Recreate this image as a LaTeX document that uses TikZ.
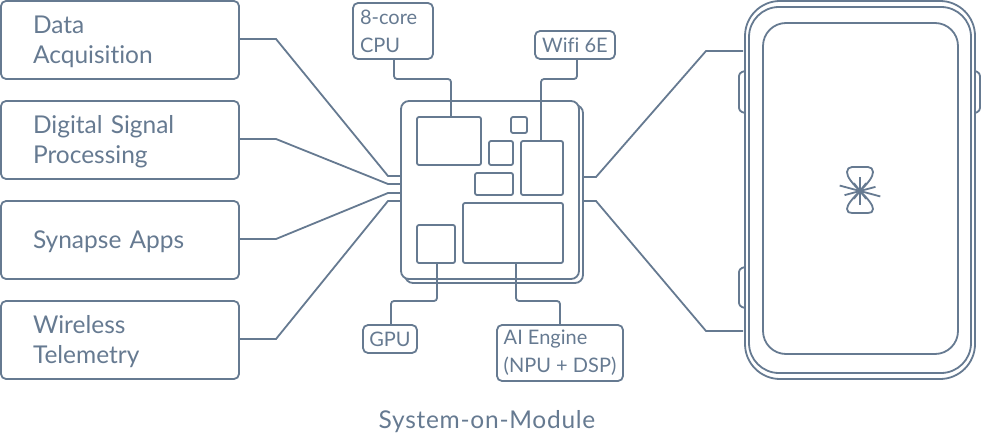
\documentclass[tikz,border=0pt]{standalone}
\usepackage{fontspec}
\setmainfont[Ligatures=NoCommon]{Lato}
\definecolor{slate}{HTML}{667A91}
\tikzset{
  wire/.style={slate,line width=1.8pt,rounded corners=3pt},
  outline/.style={slate,line width=1.8pt},
  taskbox/.style={draw=slate,line width=1.8pt,rounded corners=5pt,outer sep=0pt,inner sep=0pt,
    minimum width=238pt,minimum height=78pt,text=slate,text width=174pt,align=left,
    font=\fontsize{24.5}{30}\selectfont,execute at begin node={\rule{0pt}{22pt}}},
  partbox/.style={draw=slate,line width=1.8pt,rounded corners=5pt,outer sep=0pt,inner sep=0pt,
    text=slate,align=left,font=\fontsize{20}{28}\selectfont},
  block/.style={draw=slate,line width=1.8pt,rounded corners=2pt,outer sep=0pt,inner sep=0pt}
}
\begin{document}
\begin{tikzpicture}[x=1pt,y=-1pt]
    \useasboundingbox (0,0) rectangle (981,438);
    % software stack
    \node [taskbox] (data) at (120,40) {Data\\Acquisition};
    \node [taskbox] (dsp) at (120,140) {Digital Signal\\Processing};
    \node [taskbox] (apps) at (120,240) {Synapse Apps};
    \node [taskbox] (radio) at (120,340) {Wireless\\Telemetry};
    % module
    \node [draw=slate,line width=1.8pt,rounded corners=8pt,outer sep=0pt,minimum size=178pt] (back) at (494,194) {};
    \node [draw=slate,fill=white,line width=1.8pt,rounded corners=8pt,outer sep=0pt,minimum size=178pt] (chip) at (490,190) {};
    \foreach \name/\x/\y/\w/\h in {cpu/449/141/64/48,tiny/519/125/16/16,sq/501/153/24/24,wifi/542/168/42/54,
      mem/494/184/38/22,ai/513/233/100/60,gpu/436/244/38/38} {
        \node [block,minimum width=\w pt,minimum height=\h pt] (\name) at (\x,\y) {};
      }
    % labels round the module
    \node [partbox,minimum width=80pt,minimum height=56pt,text width=66pt] (cpuLabel) at (393,31) {8-core\\CPU};
    \node [partbox,minimum width=80pt,minimum height=28pt,align=center] (wifiLabel) at (575,45) {Wifi 6E};
    \node [partbox,minimum width=54pt,minimum height=28pt,align=center] (gpuLabel) at (390,339) {GPU};
    \node [partbox,minimum width=126pt,minimum height=56pt] (aiLabel) at (560,353) {AI Engine\\(NPU + DSP)};
    \node [text=slate,font=\fontsize{24.5}{24}\selectfont\addfontfeatures{LetterSpace=3}] (caption) at (487,422) {System-on-Module};
    \draw [wire] ([xshift=1pt]cpuLabel.south) -- ++(0,20) -| ([xshift=2pt]cpu.north);
    \draw [wire] ([xshift=2pt]wifiLabel.south) -- ++(0,20) -| ([xshift=-1pt]wifi.north);
    \draw [wire] ([xshift=1pt]gpu.south) -- ++(0,38) -| ([xshift=1pt]gpuLabel.north);
    \draw [wire] ([xshift=3pt]ai.south) -- ++(0,38) -| (aiLabel.north);
    % stack to module
    \foreach \from/\yin/\yout in {data/39/176,dsp/139/184,apps/239/193,radio/339/201} {
        \coordinate (pin) at (401,\yout);
        \draw [outline] (\from.east |- 0,\yin) -- (276,\yin) -- (388,\yout) -- (pin);
      }
    % module to device
    \coordinate (topPin) at (583,177);
    \coordinate (botPin) at (583,201);
    \coordinate (topEdge) at (743,51);
    \coordinate (botEdge) at (743,331);
    \draw [outline] (topPin) -- (596,177) -- (706,51) -- (topEdge);
    \draw [outline] (botPin) -- (596,201) -- (706,331) -- (botEdge);
    % device
    \draw [outline,rounded corners=35pt] (745,1) rectangle (975,379);
    \draw [outline,rounded corners=30pt] (749,7) rectangle (971,373);
    \draw [outline,rounded corners=23pt] (763,23) rectangle (958,354);
    \draw [outline,rounded corners=3pt] (745,71) -- (739,73) -- (739,111) -- (745,113);
    \draw [outline,rounded corners=3pt] (745,267) -- (739,269) -- (739,306) -- (745,308);
    \draw [outline,rounded corners=3pt] (975,71) -- (980,73) -- (980,111) -- (975,113);
    % logo
    \draw [outline,line join=round] (860,191) .. controls (852,183) and (847,177) .. (847,172)
      .. controls (847,169) and (849,167) .. (852,167) -- (868,167)
      .. controls (871,167) and (873,169) .. (873,172)
      .. controls (873,177) and (868,183) .. (860,191)
      .. controls (868,199) and (873,205) .. (873,209)
      .. controls (873,212) and (871,213) .. (868,213) -- (852,213)
      .. controls (849,213) and (847,212) .. (847,209)
      .. controls (847,205) and (852,199) .. (860,191);
    \foreach \a/\b in {90/14,15/21,-15/16,52/10,-52/10} {
        \draw [outline] (860,191) ++(\a:\b) -- ++(\a+180:2*\b);
      }
  \end{tikzpicture}
\end{document}
